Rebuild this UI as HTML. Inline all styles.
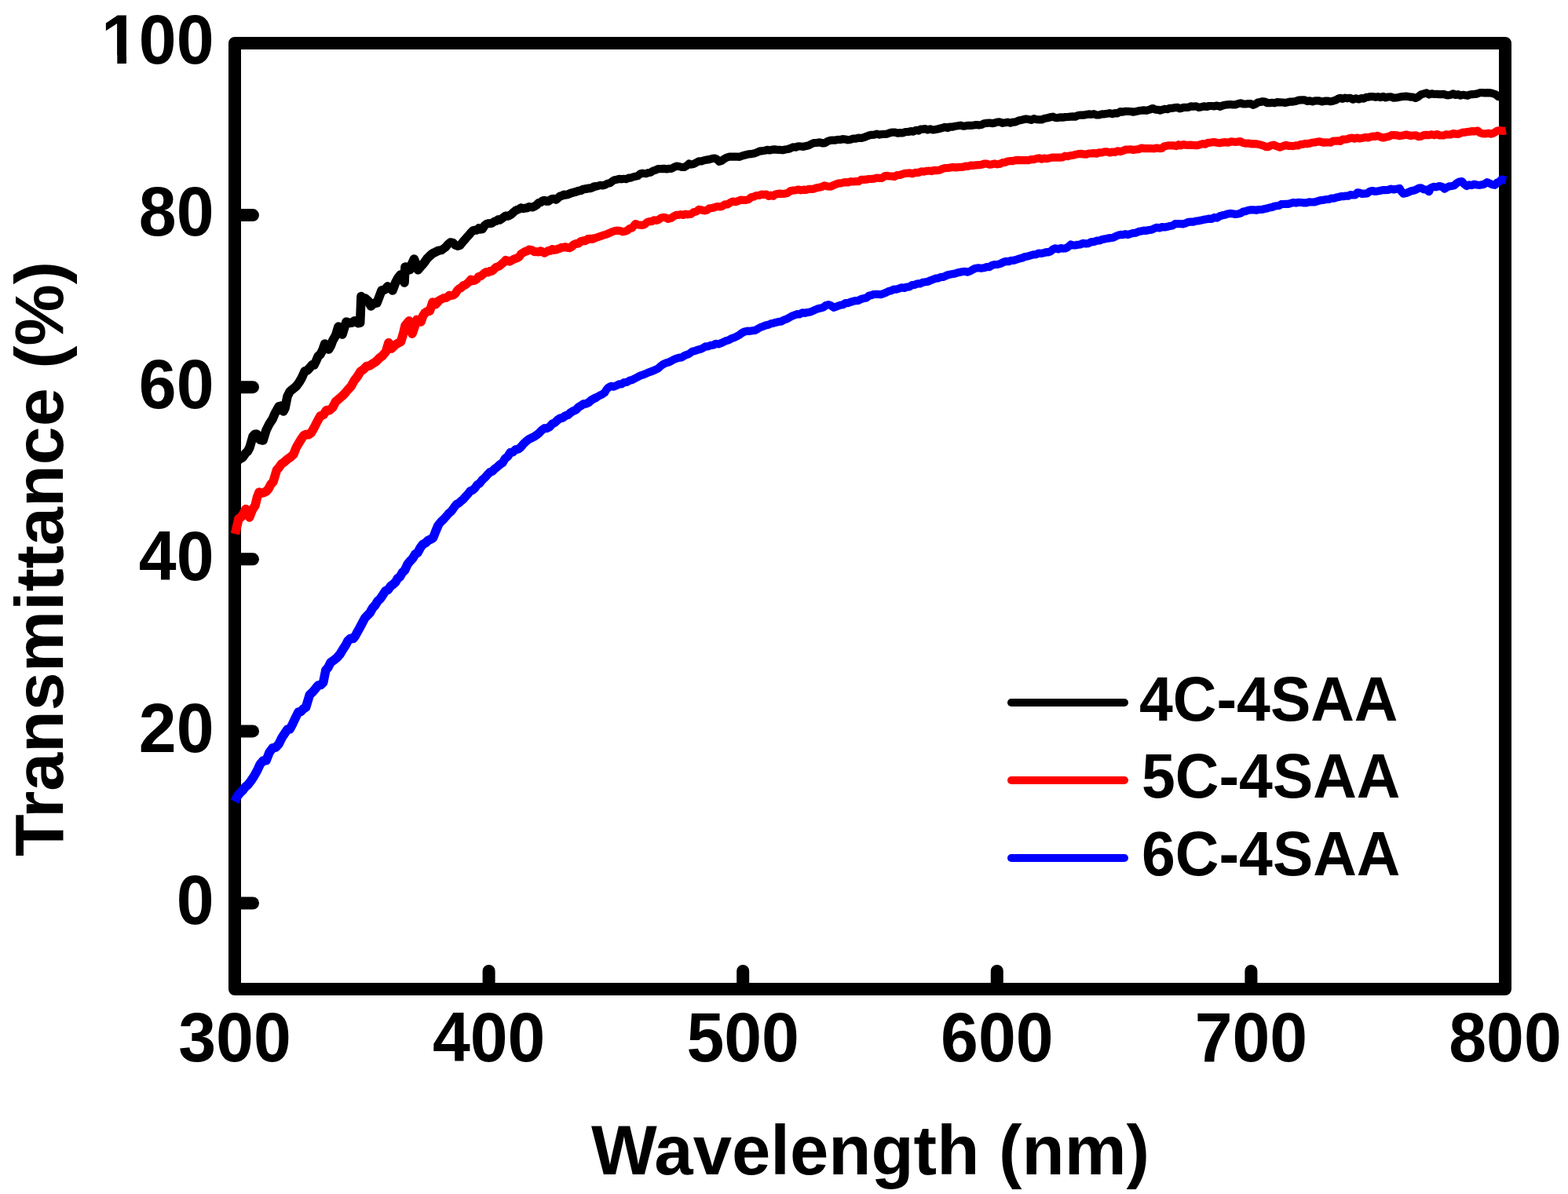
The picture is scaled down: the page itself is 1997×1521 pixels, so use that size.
<!DOCTYPE html>
<html><head><meta charset="utf-8"><title>Transmittance</title>
<style>html,body{margin:0;padding:0;background:#fff;width:1997px;height:1521px;overflow:hidden}svg{display:block}</style>
</head><body>
<svg width="1997" height="1521" viewBox="0 0 1997 1521">
<rect x="0" y="0" width="1997" height="1521" fill="#fff"/>
<rect x="299" y="55" width="1618" height="1205" fill="none" stroke="#000" stroke-width="16" stroke-linejoin="round"/>
<path d="M299,1150.5H322M299,931.4H322M299,712.3H322M299,493.2H322M299,274.1H322M622.6,1260V1237M946.2,1260V1237M1269.8,1260V1237M1593.4,1260V1237" stroke="#000" stroke-width="16" stroke-linecap="round" fill="none"/>
<text transform="translate(272.5,81.3) scale(1,1.04)" text-anchor="end" font-size="86" font-family="'Liberation Sans', Arial, sans-serif" font-weight="bold">100</text>
<text transform="translate(272.5,300.4) scale(1,1.04)" text-anchor="end" font-size="86" font-family="'Liberation Sans', Arial, sans-serif" font-weight="bold">80</text>
<text transform="translate(272.5,519.5) scale(1,1.04)" text-anchor="end" font-size="86" font-family="'Liberation Sans', Arial, sans-serif" font-weight="bold">60</text>
<text transform="translate(272.5,738.6) scale(1,1.04)" text-anchor="end" font-size="86" font-family="'Liberation Sans', Arial, sans-serif" font-weight="bold">40</text>
<text transform="translate(272.5,957.7) scale(1,1.04)" text-anchor="end" font-size="86" font-family="'Liberation Sans', Arial, sans-serif" font-weight="bold">20</text>
<text transform="translate(272.5,1176.8) scale(1,1.04)" text-anchor="end" font-size="86" font-family="'Liberation Sans', Arial, sans-serif" font-weight="bold">0</text>
<rect x="128" y="70.5" width="21.3" height="14" fill="#fff"/><rect x="161" y="70.5" width="16" height="14" fill="#fff"/>
<text transform="translate(299.0,1352) scale(1,1.04)" text-anchor="middle" font-size="86" font-family="'Liberation Sans', Arial, sans-serif" font-weight="bold">300</text>
<text transform="translate(622.6,1352) scale(1,1.04)" text-anchor="middle" font-size="86" font-family="'Liberation Sans', Arial, sans-serif" font-weight="bold">400</text>
<text transform="translate(946.2,1352) scale(1,1.04)" text-anchor="middle" font-size="86" font-family="'Liberation Sans', Arial, sans-serif" font-weight="bold">500</text>
<text transform="translate(1269.8,1352) scale(1,1.04)" text-anchor="middle" font-size="86" font-family="'Liberation Sans', Arial, sans-serif" font-weight="bold">600</text>
<text transform="translate(1593.4,1352) scale(1,1.04)" text-anchor="middle" font-size="86" font-family="'Liberation Sans', Arial, sans-serif" font-weight="bold">700</text>
<text transform="translate(1917.0,1352) scale(1,1.04)" text-anchor="middle" font-size="86" font-family="'Liberation Sans', Arial, sans-serif" font-weight="bold">800</text>
<text transform="translate(1108.5,1495.8)" text-anchor="middle" font-size="88.7" font-family="'Liberation Sans', Arial, sans-serif" font-weight="bold">Wavelength (nm)</text>
<text transform="translate(80,712) rotate(-90)" text-anchor="middle" font-size="88" font-family="'Liberation Sans', Arial, sans-serif" font-weight="bold">Transmittance (%)</text>
<polyline points="299.0,594.0 302.0,587.7 305.0,585.0 309.0,582.7 313.0,577.0 315.5,574.8 318.0,570.0 322.0,556.0 324.5,553.3 327.0,553.0 331.0,560.0 335.0,561.0 339.0,548.0 343.0,540.0 347.0,534.0 350.0,527.0 352.5,522.5 355.0,518.0 359.0,517.0 361.0,524.0 363.0,520.0 366.0,505.0 369.0,499.0 372.0,496.3 375.0,494.0 378.0,491.2 381.0,487.0 384.0,482.0 388.0,473.0 391.5,471.7 395.0,468.0 397.5,464.8 400.0,465.0 402.5,460.0 405.2,453.8 407.9,451.6 410.8,446.2 413.7,438.0 416.2,441.2 418.7,445.0 421.2,440.6 423.7,434.0 427.5,427.4 431.0,416.0 433.5,419.0 436.0,426.0 438.5,417.8 441.0,410.0 444.9,411.4 448.7,411.0 451.2,408.8 453.7,408.7 456.2,411.6 458.7,411.0 460.0,377.5 462.5,380.3 465.0,380.0 468.8,383.2 472.5,390.0 476.2,386.3 480.0,386.0 483.0,378.2 486.0,370.0 489.9,369.1 493.7,365.0 496.9,367.1 500.0,370.0 503.7,360.0 506.9,354.0 510.0,350.0 512.5,354.7 515.0,360.0 516.0,340.0 519.0,340.3 522.0,343.7 524.7,335.9 527.4,330.0 529.9,336.6 532.4,343.7 536.2,339.3 540.0,335.0 543.7,329.7 547.4,326.0 551.2,322.7 555.0,321.0 558.7,319.0 562.4,318.7 564.9,316.7 567.4,315.0 570.5,311.2 573.6,308.7 576.8,309.1 580.0,312.3 583.0,313.4 585.9,312.6 589.9,307.6 592.3,305.0 594.8,302.0 597.2,299.5 599.7,296.3 602.2,293.8 604.7,293.1 607.2,293.2 609.6,290.7 612.0,292.2 614.5,291.8 617.0,287.6 619.4,285.4 621.9,284.6 624.4,284.7 626.8,284.1 629.3,282.3 631.8,281.6 634.2,279.8 636.7,280.2 639.2,278.5 641.7,276.5 644.1,274.9 646.5,275.4 649.0,274.4 651.5,272.8 654.0,270.4 656.5,268.3 658.9,267.2 661.3,266.2 663.8,264.7 666.3,265.7 668.8,265.0 671.2,265.0 673.7,263.5 676.2,263.8 678.6,264.0 681.0,262.7 683.5,261.1 686.0,258.5 688.5,257.8 691.0,255.9 693.4,255.1 695.8,256.3 698.3,256.3 700.8,254.7 703.3,253.4 705.8,253.1 708.2,254.2 710.7,252.2 713.1,250.0 715.6,249.4 718.1,248.0 720.5,248.2 723.0,247.8 725.0,246.9 728.0,245.7 730.9,245.0 733.9,244.2 736.8,243.2 739.8,242.7 742.7,241.1 745.7,240.7 748.6,240.0 751.6,239.8 754.6,238.9 757.5,237.2 760.5,237.3 764.0,235.9 767.6,236.4 770.7,235.5 773.8,233.8 776.8,233.2 779.7,230.9 782.7,229.2 785.6,228.7 788.6,227.9 791.5,228.3 794.5,227.8 797.4,228.2 800.4,226.7 803.4,226.6 806.3,225.4 809.3,224.7 812.3,224.1 815.2,221.5 818.2,220.7 822.6,221.2 825.6,220.1 828.5,219.8 831.5,217.8 835.0,216.6 838.6,215.0 842.1,215.1 845.7,214.8 849.2,215.4 852.2,214.8 855.1,214.8 858.1,213.2 861.5,211.6 865.0,212.0 868.2,213.0 871.4,212.9 874.5,211.3 877.6,208.5 880.0,209.6 883.3,208.9 886.7,207.2 890.0,205.3 893.3,205.4 896.7,204.2 900.0,203.6 903.3,203.1 906.7,202.1 910.0,201.6 913.0,202.8 916.0,205.8 919.0,204.9 922.0,202.6 925.0,200.8 929.0,199.6 933.0,199.6 936.0,199.7 939.0,199.7 942.0,199.8 946.0,198.3 950.0,197.3 953.3,196.4 956.7,196.2 960.0,195.6 964.0,194.2 968.0,192.3 971.0,192.3 974.0,191.8 977.0,190.8 980.0,191.5 983.3,190.7 986.7,190.4 990.0,190.8 993.3,190.9 996.7,191.3 1000.0,190.5 1003.3,190.0 1006.7,189.0 1010.0,187.3 1013.3,187.7 1016.7,186.3 1020.0,186.5 1023.3,186.8 1026.7,186.0 1030.0,185.3 1033.3,183.4 1036.7,182.1 1040.0,182.0 1044.0,181.3 1048.0,182.5 1051.0,182.1 1054.0,180.1 1057.0,178.9 1060.0,178.7 1063.3,178.7 1066.7,177.9 1070.0,178.0 1073.3,177.2 1076.7,177.5 1080.0,178.3 1083.3,177.8 1086.7,176.5 1090.0,176.6 1093.3,175.6 1096.7,176.0 1100.0,175.1 1103.3,173.9 1106.7,172.5 1110.0,171.8 1113.3,171.7 1116.7,170.7 1120.0,171.6 1123.3,171.0 1126.7,170.8 1130.0,170.6 1133.3,169.3 1136.7,168.5 1140.0,168.6 1143.3,169.6 1146.7,169.1 1150.0,169.3 1153.3,168.0 1156.7,168.0 1160.0,167.1 1163.3,167.6 1166.7,165.8 1170.0,166.6 1172.5,164.6 1175.0,164.6 1178.2,164.1 1181.5,165.4 1184.8,164.4 1188.0,165.3 1191.0,165.1 1194.0,164.5 1197.0,163.7 1200.0,163.0 1203.3,161.9 1206.7,163.0 1210.0,161.5 1213.3,161.7 1216.7,160.7 1220.0,160.3 1223.3,159.7 1226.7,160.6 1230.0,160.3 1233.3,159.8 1236.7,159.9 1240.0,159.5 1243.3,159.0 1246.7,159.4 1250.0,159.0 1253.3,157.3 1256.7,156.9 1260.0,156.5 1263.3,157.1 1266.7,156.6 1270.0,155.5 1273.3,155.4 1276.7,156.8 1280.0,156.3 1283.3,155.7 1286.7,156.7 1290.0,155.6 1293.3,155.3 1296.7,153.8 1300.0,153.1 1303.3,152.3 1306.7,151.5 1310.0,152.1 1313.3,152.9 1316.7,151.2 1320.0,152.1 1323.3,152.4 1326.7,152.4 1330.0,151.1 1334.0,150.3 1338.0,149.3 1341.0,148.6 1344.0,150.0 1347.0,150.2 1350.0,149.3 1353.3,149.6 1356.7,149.1 1360.0,149.0 1363.3,148.6 1366.7,148.4 1370.0,148.6 1373.0,147.0 1376.0,146.6 1379.5,146.7 1383.0,146.1 1386.5,145.4 1390.0,145.8 1393.3,145.2 1396.7,146.5 1400.0,146.3 1403.3,145.4 1406.7,145.3 1410.0,144.8 1413.3,144.2 1416.7,145.1 1420.0,144.1 1423.3,144.4 1426.7,142.1 1430.0,142.6 1433.3,141.8 1436.7,141.9 1440.0,142.0 1443.3,142.7 1446.7,142.1 1450.0,141.3 1453.3,140.8 1456.7,140.4 1460.0,140.8 1464.0,139.7 1468.0,138.0 1471.5,139.6 1475.0,139.8 1477.5,140.7 1480.0,139.8 1483.3,138.8 1486.7,139.2 1490.0,137.8 1493.3,137.8 1496.7,137.1 1500.0,136.8 1502.5,138.3 1505.0,137.8 1507.5,136.8 1510.0,136.8 1513.3,136.9 1516.7,135.3 1520.0,135.8 1523.3,135.3 1526.7,137.0 1530.0,136.3 1533.3,135.3 1536.7,136.0 1540.0,135.0 1543.3,135.0 1546.7,135.3 1550.0,134.5 1554.0,135.8 1557.0,134.5 1560.0,133.8 1563.3,133.3 1566.7,133.0 1570.0,133.3 1573.3,133.4 1576.7,132.2 1580.0,131.3 1583.3,132.4 1586.7,132.5 1590.0,132.0 1593.0,132.2 1596.0,133.8 1599.0,132.6 1602.0,130.5 1605.0,130.0 1608.0,129.2 1611.0,129.5 1614.0,131.2 1617.0,131.2 1620.0,130.8 1623.3,131.3 1626.7,130.1 1630.0,130.3 1633.3,130.5 1636.7,130.9 1640.0,130.3 1643.3,129.6 1646.7,129.6 1650.0,129.0 1654.0,127.6 1658.0,127.3 1661.5,127.3 1665.0,129.0 1668.3,128.3 1671.7,129.3 1675.0,128.3 1677.5,128.4 1680.0,128.3 1683.6,129.4 1687.2,128.7 1690.8,128.6 1694.4,129.3 1697.6,128.7 1700.8,127.7 1704.0,125.9 1707.0,124.8 1710.0,125.9 1713.0,124.6 1716.0,125.3 1719.6,124.8 1723.2,126.7 1726.9,125.3 1730.5,126.5 1733.7,125.1 1736.8,125.7 1740.0,123.8 1743.0,123.6 1746.0,123.0 1749.0,123.1 1752.0,123.8 1755.1,123.2 1758.3,124.2 1761.4,122.8 1764.6,124.4 1767.7,123.5 1771.3,123.3 1774.8,124.6 1778.4,124.5 1782.0,123.8 1785.7,123.1 1789.3,122.7 1793.0,122.9 1796.2,123.6 1799.4,123.5 1802.6,125.0 1806.2,123.4 1809.8,120.3 1813.4,119.3 1816.7,118.4 1820.0,120.5 1823.4,119.3 1826.7,120.0 1830.0,119.9 1833.0,120.1 1836.0,120.1 1839.0,119.9 1842.0,121.1 1844.9,121.3 1847.8,120.8 1850.7,119.3 1853.8,121.0 1856.9,120.1 1860.0,121.7 1863.0,120.8 1866.0,121.3 1869.0,121.8 1872.0,120.5 1875.2,120.1 1878.4,119.9 1881.6,119.4 1884.8,118.1 1888.0,118.1 1891.2,118.4 1894.5,118.2 1897.8,118.3 1901.0,119.0 1904.7,120.3 1908.4,123.2 1911.6,123.4 1914.8,125.4 1918.0,125.0" fill="none" stroke="#000" stroke-width="10.2" stroke-linejoin="round" stroke-linecap="butt"/>
<polyline points="299.0,594.0 302.0,587.7 305.0,585.0 309.0,582.7 313.0,577.0 315.5,574.8 318.0,570.0 322.0,556.0 324.5,553.3 327.0,553.0 331.0,560.0 335.0,561.0 339.0,548.0 343.0,540.0 347.0,534.0 350.0,527.0 352.5,522.5 355.0,518.0 359.0,517.0 361.0,524.0 363.0,520.0 366.0,505.0 369.0,499.0 372.0,496.3 375.0,494.0 378.0,491.2 381.0,487.0 384.0,482.0 388.0,473.0 391.5,471.7 395.0,468.0 397.5,464.8 400.0,465.0 402.5,460.0 405.2,453.8 407.9,451.6 410.8,446.2 413.7,438.0 416.2,441.2 418.7,445.0 421.2,440.6 423.7,434.0 427.5,427.4 431.0,416.0 433.5,419.0 436.0,426.0 438.5,417.8 441.0,410.0 444.9,411.4 448.7,411.0 451.2,408.8 453.7,408.7 456.2,411.6 458.7,411.0 460.0,377.5 462.5,380.3 465.0,380.0 468.8,383.2 472.5,390.0 476.2,386.3 480.0,386.0 483.0,378.2 486.0,370.0 489.9,369.1 493.7,365.0 496.9,367.1 500.0,370.0 503.7,360.0 506.9,354.0 510.0,350.0 512.5,354.7 515.0,360.0 516.0,340.0 519.0,340.3 522.0,343.7 524.7,335.9 527.4,330.0 529.9,336.6 532.4,343.7 536.2,339.3 540.0,335.0 543.7,329.7 547.4,326.0 551.2,322.7 555.0,321.0 558.7,319.0" fill="none" stroke="#000" stroke-width="11.6" stroke-linejoin="round" stroke-linecap="butt"/>
<polyline points="555.0,321.0 558.7,319.0 562.4,318.7 564.9,316.7 567.4,315.0 570.5,311.2 573.6,308.7 576.8,309.1 580.0,312.3 583.0,313.4 585.9,312.6 589.9,307.6 592.3,305.0 594.8,302.0 597.2,299.5 599.7,296.3 602.2,293.8 604.7,293.1 607.2,293.2 609.6,290.7 612.0,292.2 614.5,291.8 617.0,287.6 619.4,285.4 621.9,284.6 624.4,284.7 626.8,284.1 629.3,282.3 631.8,281.6 634.2,279.8 636.7,280.2 639.2,278.5 641.7,276.5 644.1,274.9 646.5,275.4 649.0,274.4 651.5,272.8 654.0,270.4 656.5,268.3 658.9,267.2 661.3,266.2 663.8,264.7 666.3,265.7 668.8,265.0 671.2,265.0 673.7,263.5 676.2,263.8 678.6,264.0 681.0,262.7 683.5,261.1 686.0,258.5 688.5,257.8 691.0,255.9 693.4,255.1 695.8,256.3 698.3,256.3 700.8,254.7 703.3,253.4 705.8,253.1 708.2,254.2 710.7,252.2 713.1,250.0 715.6,249.4 718.1,248.0 720.5,248.2 723.0,247.8 725.0,246.9 728.0,245.7 730.9,245.0 733.9,244.2 736.8,243.2 739.8,242.7 742.7,241.1 745.7,240.7 748.6,240.0 751.6,239.8 754.6,238.9 757.5,237.2" fill="none" stroke="#000" stroke-width="10.9" stroke-linejoin="round" stroke-linecap="butt"/>
<polyline points="299.5,680.0 304.0,660.6 307.0,658.8 310.0,654.7 313.0,648.5 317.7,659.0 321.4,649.4 325.0,644.0 327.5,633.5 330.0,627.0 333.0,628.3 336.0,627.4 339.0,626.0 342.0,622.7 345.0,616.9 348.0,613.7 352.5,598.6 355.5,595.3 358.5,591.0 362.2,588.5 366.0,585.0 369.9,582.4 373.7,579.0 377.4,569.9 381.0,563.8 384.0,558.9 387.0,554.7 390.0,553.2 393.0,553.7 396.0,551.7 400.0,545.0 404.0,537.0 407.9,530.0 411.9,528.4 415.8,522.6 419.8,522.6 423.7,519.0 427.6,511.5 431.6,508.3 435.5,504.8 439.4,500.9 443.4,496.1 447.3,491.8 451.2,484.8 455.2,479.6 459.1,473.3 463.1,470.5 467.1,466.4 471.0,465.8 474.9,463.1 478.9,460.6 482.9,456.4 486.8,453.5 491.5,448.0 495.0,436.5 498.5,444.0 502.6,440.0 506.6,437.3 510.5,435.4 513.2,426.5 516.0,415.0 518.5,411.9 521.0,408.7 525.0,425.0 528.0,416.4 531.0,407.4 533.5,407.8 536.0,410.0 538.5,402.8 541.0,398.7 544.2,396.8 547.4,396.0 551.0,385.0 555.0,387.4 558.7,383.1 562.4,381.0 565.7,379.4 569.1,379.2 572.4,376.0 574.9,376.5 577.4,376.0 580.0,374.0 582.5,369.9 584.9,367.6 587.4,366.7 589.9,363.6 592.3,363.2 594.8,361.2 597.2,359.2 599.7,356.0 602.2,357.7 604.7,357.2 607.2,355.5 609.6,352.3 612.0,351.9 614.5,350.0 617.0,347.8 619.4,346.4 621.9,347.0 624.4,345.1 626.8,345.2 629.3,342.9 631.8,340.4 634.2,339.7 636.7,338.5 639.2,336.0 641.7,334.2 644.1,331.3 646.5,332.1 649.0,333.1 651.5,331.8 654.0,330.3 656.5,329.4 658.9,328.6 661.3,327.0 663.8,323.4 666.3,321.9 668.8,320.4 671.2,319.9 673.7,318.0 676.2,318.4 678.6,319.4 681.0,320.9 683.5,320.7 686.0,321.0 688.5,319.7 691.0,320.9 693.4,322.2 695.8,320.9 698.3,319.4 700.8,319.3 703.3,317.5 705.8,318.2 708.2,318.0 710.7,317.1 713.1,316.3 715.6,315.1 718.1,315.0 720.5,314.8 723.0,315.3 725.0,315.7 728.0,314.3 730.9,311.5 733.9,310.4 736.8,310.0 739.8,307.5 742.7,306.8 745.7,306.7 748.6,304.6 751.6,304.1 754.6,304.4 757.5,303.4 760.5,302.4 763.5,301.4 766.4,300.4 769.4,299.3 772.3,298.5 775.3,297.2 778.2,295.9 781.2,294.8 784.1,293.8 787.1,293.7 790.1,294.1 793.0,295.3 796.0,294.8 799.0,293.6 801.9,291.0 804.9,290.4 809.3,285.1 812.3,286.3 815.2,286.7 818.2,286.8 821.1,286.0 824.1,283.0 827.0,282.1 830.0,282.2 832.9,280.4 835.9,280.8 838.9,279.8 841.8,277.7 844.8,276.8 847.9,277.3 851.0,278.8 854.5,277.9 858.1,275.5 861.1,273.9 864.0,273.9 867.0,273.1 869.9,273.9 872.9,272.7 875.8,273.3 880.0,272.7 883.3,270.2 886.7,269.6 890.0,266.9 893.5,267.5 897.0,268.4 900.2,267.8 903.5,265.4 906.8,265.0 910.0,264.2 913.3,263.0 916.7,263.5 920.0,262.7 923.3,260.3 926.7,260.5 930.0,258.1 933.3,256.5 936.7,257.2 940.0,256.1 943.3,254.7 946.7,254.8 950.0,254.9 953.3,254.1 956.7,251.3 960.0,250.6 963.3,249.0 966.7,249.0 970.0,247.6 973.0,247.8 976.0,247.6 979.0,249.9 982.0,248.7 985.0,249.8 987.5,247.5 990.0,247.1 993.3,246.6 996.7,247.0 1000.0,246.6 1003.3,245.8 1006.7,243.2 1010.0,242.6 1013.3,242.2 1016.7,241.5 1020.0,242.3 1023.3,241.7 1026.7,241.8 1030.0,240.8 1033.3,240.8 1036.7,240.6 1040.0,239.3 1043.3,238.8 1046.7,238.0 1050.0,236.3 1054.0,237.4 1058.0,237.6 1061.5,236.0 1065.0,234.6 1068.0,233.4 1071.0,233.5 1074.0,232.5 1077.0,232.1 1080.0,232.4 1083.3,231.2 1086.7,231.5 1090.0,231.2 1093.3,231.2 1096.7,228.9 1100.0,228.9 1103.3,228.7 1106.7,228.0 1110.0,227.9 1113.3,227.6 1116.7,226.5 1120.0,226.8 1123.3,226.8 1126.7,224.4 1130.0,223.9 1133.0,224.5 1136.0,224.5 1139.0,225.1 1142.7,223.0 1146.3,222.9 1150.0,221.6 1153.0,220.8 1156.0,220.6 1159.0,220.4 1162.0,221.3 1166.0,219.9 1170.0,219.8 1173.3,218.3 1176.7,218.7 1180.0,217.8 1183.3,217.5 1186.7,218.1 1190.0,216.8 1193.3,217.1 1196.7,216.7 1200.0,215.1 1203.3,214.1 1206.7,214.0 1210.0,213.6 1213.3,212.9 1216.7,213.4 1220.0,213.1 1223.3,212.8 1226.7,212.7 1230.0,211.6 1233.3,211.8 1236.7,210.6 1240.0,210.8 1243.3,210.3 1246.7,210.2 1250.0,209.8 1253.3,208.7 1256.7,208.7 1260.0,209.6 1263.3,209.3 1266.7,208.6 1270.0,209.3 1273.3,208.9 1276.7,207.2 1280.0,206.9 1283.3,205.5 1286.7,205.1 1290.0,205.1 1293.3,204.2 1296.7,203.9 1300.0,204.1 1303.3,204.1 1306.7,204.0 1310.0,204.1 1313.3,203.1 1316.7,203.1 1320.0,202.1 1323.3,201.4 1326.7,202.6 1330.0,201.6 1333.3,202.2 1336.7,201.4 1340.0,200.6 1343.3,200.5 1346.7,200.6 1350.0,200.6 1353.3,200.3 1356.7,198.7 1360.0,199.1 1363.3,198.2 1366.7,197.7 1370.0,196.9 1373.3,196.1 1376.7,195.8 1380.0,196.4 1383.3,196.7 1386.7,195.5 1390.0,195.4 1393.3,195.1 1396.7,195.6 1400.0,194.4 1403.3,194.3 1406.7,193.3 1410.0,193.4 1413.3,194.5 1416.7,193.5 1420.0,193.9 1423.3,192.3 1426.7,193.1 1430.0,192.1 1433.3,190.7 1436.7,190.5 1440.0,190.3 1443.3,190.9 1446.7,190.5 1450.0,190.1 1454.0,188.6 1458.0,189.1 1461.0,189.1 1464.0,189.0 1467.0,189.2 1470.0,189.3 1473.3,188.5 1476.7,189.1 1480.0,188.8 1482.5,186.5 1485.0,185.9 1488.3,185.3 1491.7,185.3 1495.0,185.4 1498.0,186.1 1501.0,184.2 1504.0,185.4 1507.0,184.1 1510.0,184.6 1513.0,184.9 1516.0,184.6 1519.0,184.9 1522.0,185.1 1525.2,185.2 1528.5,184.1 1531.8,183.2 1535.0,183.6 1538.5,181.8 1542.0,181.6 1546.0,180.9 1550.0,181.8 1553.3,182.3 1556.7,181.6 1560.0,181.1 1564.0,181.6 1568.0,180.3 1572.0,180.8 1576.0,180.6 1579.5,180.1 1583.0,181.9 1586.5,182.7 1590.0,182.6 1593.3,183.3 1596.7,183.1 1600.0,183.3 1603.3,183.9 1606.7,184.9 1610.0,185.9 1612.5,187.1 1615.0,187.1 1618.5,185.4 1622.0,184.6 1626.0,186.2 1630.0,187.6 1634.0,186.2 1638.0,184.9 1641.0,185.9 1644.0,185.8 1647.0,186.1 1650.0,185.4 1653.3,185.5 1656.7,183.8 1660.0,183.6 1662.5,182.9 1665.0,183.3 1668.3,182.6 1671.7,181.5 1675.0,181.3 1677.5,180.7 1680.0,180.3 1683.0,181.0 1686.0,181.7 1689.0,181.4 1692.0,181.5 1695.0,181.6 1698.0,179.6 1701.0,179.6 1704.0,179.4 1707.0,179.9 1710.0,177.6 1713.0,177.7 1716.0,177.3 1719.0,176.0 1722.0,175.6 1725.0,176.7 1728.0,175.5 1731.6,176.5 1735.2,175.8 1738.9,174.8 1742.5,175.5 1745.5,174.4 1748.5,173.6 1751.5,173.8 1754.5,172.8 1758.1,174.5 1761.7,175.5 1765.3,174.6 1768.8,173.9 1772.4,172.2 1776.0,172.2 1779.0,172.3 1782.0,173.1 1785.0,172.7 1788.0,172.2 1791.0,171.5 1794.0,172.4 1797.0,172.9 1800.0,172.5 1803.3,172.4 1806.7,174.1 1810.0,173.7 1813.4,172.2 1816.7,171.9 1820.0,172.1 1823.4,171.3 1826.7,172.2 1830.0,171.0 1833.0,172.3 1836.0,172.5 1839.0,172.3 1842.0,171.2 1845.0,171.5 1848.0,171.3 1851.0,170.0 1854.0,170.7 1857.0,170.9 1860.0,169.8 1862.9,168.6 1865.8,168.6 1868.7,168.0 1872.0,167.6 1875.3,167.1 1878.7,167.3 1882.0,166.5 1885.0,169.2 1888.0,170.1 1891.6,170.4 1895.2,169.7 1898.8,170.6 1902.4,169.5 1907.0,166.5 1910.7,166.2 1914.3,167.0 1918.0,166.5" fill="none" stroke="#ff0000" stroke-width="10.2" stroke-linejoin="round" stroke-linecap="butt"/>
<polyline points="299.5,680.0 304.0,660.6 307.0,658.8 310.0,654.7 313.0,648.5 317.7,659.0 321.4,649.4 325.0,644.0 327.5,633.5 330.0,627.0 333.0,628.3 336.0,627.4 339.0,626.0 342.0,622.7 345.0,616.9 348.0,613.7 352.5,598.6 355.5,595.3 358.5,591.0 362.2,588.5 366.0,585.0 369.9,582.4 373.7,579.0 377.4,569.9 381.0,563.8 384.0,558.9 387.0,554.7 390.0,553.2 393.0,553.7 396.0,551.7 400.0,545.0 404.0,537.0 407.9,530.0 411.9,528.4 415.8,522.6 419.8,522.6 423.7,519.0 427.6,511.5 431.6,508.3 435.5,504.8 439.4,500.9 443.4,496.1 447.3,491.8 451.2,484.8 455.2,479.6 459.1,473.3 463.1,470.5 467.1,466.4 471.0,465.8 474.9,463.1 478.9,460.6 482.9,456.4 486.8,453.5 491.5,448.0 495.0,436.5 498.5,444.0 502.6,440.0 506.6,437.3 510.5,435.4 513.2,426.5 516.0,415.0 518.5,411.9 521.0,408.7 525.0,425.0 528.0,416.4 531.0,407.4 533.5,407.8 536.0,410.0 538.5,402.8 541.0,398.7 544.2,396.8 547.4,396.0 551.0,385.0 555.0,387.4 558.7,383.1" fill="none" stroke="#ff0000" stroke-width="11.6" stroke-linejoin="round" stroke-linecap="butt"/>
<polyline points="555.0,387.4 558.7,383.1 562.4,381.0 565.7,379.4 569.1,379.2 572.4,376.0 574.9,376.5 577.4,376.0 580.0,374.0 582.5,369.9 584.9,367.6 587.4,366.7 589.9,363.6 592.3,363.2 594.8,361.2 597.2,359.2 599.7,356.0 602.2,357.7 604.7,357.2 607.2,355.5 609.6,352.3 612.0,351.9 614.5,350.0 617.0,347.8 619.4,346.4 621.9,347.0 624.4,345.1 626.8,345.2 629.3,342.9 631.8,340.4 634.2,339.7 636.7,338.5 639.2,336.0 641.7,334.2 644.1,331.3 646.5,332.1 649.0,333.1 651.5,331.8 654.0,330.3 656.5,329.4 658.9,328.6 661.3,327.0 663.8,323.4 666.3,321.9 668.8,320.4 671.2,319.9 673.7,318.0 676.2,318.4 678.6,319.4 681.0,320.9 683.5,320.7 686.0,321.0 688.5,319.7 691.0,320.9 693.4,322.2 695.8,320.9 698.3,319.4 700.8,319.3 703.3,317.5 705.8,318.2 708.2,318.0 710.7,317.1 713.1,316.3 715.6,315.1 718.1,315.0 720.5,314.8 723.0,315.3 725.0,315.7 728.0,314.3 730.9,311.5 733.9,310.4 736.8,310.0 739.8,307.5 742.7,306.8 745.7,306.7 748.6,304.6 751.6,304.1 754.6,304.4 757.5,303.4" fill="none" stroke="#ff0000" stroke-width="10.9" stroke-linejoin="round" stroke-linecap="butt"/>
<polyline points="299.0,1020.8 302.5,1014.0 306.0,1009.8 309.2,1006.8 312.3,1002.6 315.5,1000.0 319.4,995.0 323.4,989.0 327.4,981.9 331.3,973.5 335.1,969.1 339.0,968.8 343.0,958.6 347.0,953.0 351.0,952.1 355.0,948.0 358.9,939.9 362.8,934.0 366.0,929.1 369.1,928.9 372.3,923.0 376.1,914.9 380.0,907.0 383.2,906.5 386.4,902.9 389.6,901.0 394.4,885.0 398.2,881.6 402.0,877.0 405.2,873.0 408.5,872.5 411.7,869.4 414.9,853.6 417.9,850.3 421.0,844.0 425.0,841.1 429.0,838.0 433.0,833.4 437.0,826.8 440.0,822.3 443.0,816.5 446.4,813.2 449.9,813.4 452.6,809.9 455.3,804.8 458.0,800.0 461.3,793.8 464.7,787.4 468.0,783.8 471.2,780.6 474.5,774.6 477.8,771.0 481.0,765.7 484.3,762.7 487.7,757.7 491.0,752.6 494.3,751.3 497.5,746.7 500.8,744.3 503.7,741.6 506.5,736.7 509.4,734.7 512.3,729.5 515.6,726.3 518.9,719.1 522.2,714.8 525.5,711.5 528.8,706.0 532.0,704.0 535.3,697.7 538.6,693.4 541.9,691.7 545.2,688.6 548.4,687.1 551.7,685.0 555.0,676.5 558.3,668.7 561.6,664.6 564.9,661.6 568.2,657.9 571.5,654.0 574.8,651.3 578.0,646.8 581.3,642.4 584.2,641.0 587.2,638.2 590.1,635.9 593.1,632.4 596.0,629.3 598.9,625.5 601.8,624.5 604.7,621.9 607.6,617.8 610.9,615.6 614.2,611.4 617.5,608.5 620.8,604.7 623.9,601.5 626.9,600.5 630.0,597.2 633.3,594.9 636.7,591.7 640.0,589.7 643.3,584.1 646.7,581.5 650.0,576.2 653.3,576.0 656.7,572.6 660.0,572.2 663.3,569.6 666.7,565.5 670.0,562.4 673.3,559.6 676.7,558.0 680.0,556.4 683.3,554.2 686.7,551.6 690.0,548.1 693.3,545.7 696.7,545.5 700.0,543.8 703.3,540.0 706.7,538.4 710.0,535.1 713.3,532.9 716.7,532.2 720.0,529.6 723.3,528.6 726.7,525.6 730.0,523.6 733.3,522.3 736.7,518.7 740.0,516.8 743.3,514.6 746.7,514.2 750.0,512.6 753.3,509.5 756.7,507.7 760.0,506.1 763.3,504.0 766.7,502.5 770.0,500.3 772.5,496.2 775.0,493.5 778.3,491.8 781.7,492.7 785.0,491.2 788.3,489.4 791.7,489.3 795.0,487.0 798.3,486.8 801.7,484.8 805.0,484.0 808.3,482.2 811.7,480.5 815.0,478.7 818.3,477.7 821.7,476.3 825.0,474.8 828.3,473.6 831.7,472.4 835.0,470.8 838.3,469.3 841.7,466.1 845.0,463.8 848.3,462.3 851.7,461.6 855.0,459.8 858.3,457.9 861.7,456.6 865.0,455.6 868.3,455.3 871.7,453.1 875.0,451.8 878.3,450.3 881.7,447.7 885.0,447.1 888.3,445.8 891.7,444.9 895.0,443.6 898.3,441.4 901.7,441.3 905.0,439.8 908.3,439.6 911.7,437.9 915.0,438.3 918.3,437.2 921.7,435.4 925.0,434.1 928.3,433.1 931.7,431.1 935.0,430.1 938.3,428.5 941.7,426.6 945.0,424.1 948.3,422.4 951.7,421.7 955.0,421.8 958.3,421.2 961.7,420.9 965.0,419.0 968.3,417.0 971.7,415.9 975.0,414.5 978.3,413.8 981.7,412.3 985.0,411.7 988.3,410.7 991.7,409.9 995.0,409.5 998.3,407.6 1001.7,406.5 1005.0,404.7 1008.3,402.8 1011.7,401.5 1015.0,400.2 1018.3,400.3 1021.7,398.3 1025.0,398.8 1028.3,398.0 1031.7,397.5 1035.0,396.1 1038.3,394.6 1041.7,393.2 1045.0,392.6 1048.3,391.7 1051.7,389.1 1055.0,388.1 1058.5,389.3 1062.0,391.8 1066.0,390.2 1070.0,388.8 1073.3,388.3 1076.7,386.2 1080.0,386.1 1083.3,384.7 1086.7,383.8 1090.0,383.1 1093.3,382.8 1096.7,381.0 1100.0,380.1 1103.3,379.5 1106.7,376.8 1110.0,376.1 1112.5,375.1 1115.0,374.8 1118.3,374.9 1121.7,375.1 1125.0,374.1 1128.3,372.7 1131.7,371.0 1135.0,370.3 1138.3,368.6 1141.7,368.6 1145.0,367.6 1148.3,366.3 1151.7,366.9 1155.0,365.6 1158.3,365.3 1161.7,363.1 1165.0,362.8 1168.3,361.4 1171.7,361.4 1175.0,359.8 1178.3,359.3 1181.7,358.7 1185.0,357.3 1188.3,356.0 1191.7,354.6 1195.0,354.3 1198.3,352.8 1201.7,352.8 1205.0,351.1 1208.3,349.9 1211.7,349.3 1215.0,348.8 1218.3,347.8 1221.7,346.9 1225.0,346.2 1228.5,345.8 1232.0,346.6 1235.5,345.5 1239.0,343.4 1242.5,341.7 1246.0,341.3 1249.5,341.8 1253.0,341.3 1256.5,340.2 1260.0,340.1 1263.5,337.9 1267.0,337.0 1270.5,336.9 1274.1,335.9 1277.6,334.1 1281.1,332.8 1284.5,333.1 1288.0,331.8 1291.5,331.7 1295.1,330.5 1298.6,329.4 1302.1,328.5 1305.5,327.0 1309.0,326.5 1312.5,325.4 1316.1,324.4 1319.6,324.1 1323.1,322.5 1326.5,322.9 1330.0,322.0 1332.7,321.2 1335.4,321.3 1338.1,320.2 1340.7,317.8 1344.2,316.3 1347.7,317.4 1351.2,316.0 1353.8,316.6 1356.4,316.5 1360.1,314.8 1363.8,311.5 1366.6,312.4 1369.4,312.5 1372.2,311.8 1375.7,311.5 1379.2,309.9 1382.7,310.4 1386.2,310.1 1389.7,308.2 1393.2,308.1 1396.7,306.7 1400.3,306.4 1403.8,305.0 1407.3,304.4 1410.8,303.6 1414.3,303.1 1417.8,302.7 1421.3,300.9 1424.8,299.4 1427.4,298.9 1430.0,299.1 1433.3,298.2 1436.7,299.0 1440.0,297.8 1443.3,296.9 1446.7,296.6 1450.0,295.1 1453.3,294.4 1456.7,293.6 1460.0,293.8 1463.3,293.0 1466.7,292.6 1470.0,291.1 1473.3,289.8 1476.7,290.4 1480.0,289.1 1483.3,289.5 1486.7,288.8 1490.0,287.8 1493.3,287.5 1496.7,285.0 1500.0,285.1 1503.3,285.1 1506.7,285.3 1510.0,284.3 1513.3,282.8 1516.7,282.7 1520.0,282.6 1523.3,281.5 1526.7,281.3 1530.0,280.6 1533.3,279.8 1536.7,279.2 1540.0,278.6 1543.3,278.8 1546.7,276.9 1550.0,277.6 1553.3,275.4 1556.7,274.3 1560.0,273.8 1563.3,272.5 1566.7,271.9 1570.0,272.3 1573.3,273.0 1576.7,272.5 1580.0,271.6 1583.3,269.5 1586.7,269.1 1590.0,267.8 1593.3,267.4 1596.7,267.4 1600.0,267.8 1603.3,267.0 1606.7,267.0 1610.0,266.2 1613.3,265.6 1616.7,264.5 1620.0,264.0 1623.0,262.7 1626.0,262.3 1629.0,262.0 1631.8,260.2 1634.5,260.0 1637.7,259.8 1640.9,259.9 1644.1,258.9 1647.3,258.0 1650.5,258.6 1653.8,257.8 1657.2,258.0 1660.5,258.3 1663.8,258.4 1667.2,257.4 1670.5,257.5 1673.7,257.5 1676.9,256.6 1680.2,255.6 1683.4,254.9 1686.6,254.6 1689.7,254.0 1692.8,253.8 1695.8,252.6 1698.9,252.6 1702.0,251.6 1705.0,251.0 1708.0,250.1 1711.0,250.2 1714.0,249.6 1717.0,249.7 1720.0,248.1 1723.0,248.5 1726.0,248.4 1728.5,245.4 1731.7,245.7 1734.8,247.0 1738.0,246.6 1741.2,246.3 1744.5,243.9 1747.7,243.0 1750.9,243.8 1754.1,243.6 1757.3,243.0 1760.9,242.1 1764.4,242.1 1768.0,241.8 1771.6,240.6 1775.2,241.5 1778.9,240.8 1782.5,240.0 1785.0,244.1 1787.4,246.6 1790.9,246.0 1794.5,244.5 1798.0,243.0 1801.0,242.6 1804.0,241.3 1807.0,239.5 1810.0,239.4 1813.3,241.2 1816.7,241.6 1820.0,244.2 1822.0,239.4 1825.7,237.9 1829.3,238.3 1833.0,237.0 1836.5,237.9 1840.0,240.6 1842.9,238.6 1845.7,237.4 1848.6,237.0 1851.9,236.3 1855.2,233.4 1858.6,231.5 1861.9,231.0 1865.0,234.7 1868.0,237.0 1871.2,235.4 1874.3,236.1 1877.5,234.6 1881.1,235.5 1884.7,235.8 1887.8,235.3 1890.9,234.3 1894.0,232.2 1897.3,233.6 1900.7,235.2 1904.0,235.8 1906.8,232.5 1909.6,231.5 1912.4,228.6 1915.2,229.2 1918.0,229.8" fill="none" stroke="#0000ff" stroke-width="10.2" stroke-linejoin="round" stroke-linecap="butt"/>
<polyline points="299.0,1020.8 302.5,1014.0 306.0,1009.8 309.2,1006.8 312.3,1002.6 315.5,1000.0 319.4,995.0 323.4,989.0 327.4,981.9 331.3,973.5 335.1,969.1 339.0,968.8 343.0,958.6 347.0,953.0 351.0,952.1 355.0,948.0 358.9,939.9 362.8,934.0 366.0,929.1 369.1,928.9 372.3,923.0 376.1,914.9 380.0,907.0 383.2,906.5 386.4,902.9 389.6,901.0 394.4,885.0 398.2,881.6 402.0,877.0 405.2,873.0 408.5,872.5 411.7,869.4 414.9,853.6 417.9,850.3 421.0,844.0 425.0,841.1 429.0,838.0 433.0,833.4 437.0,826.8 440.0,822.3 443.0,816.5 446.4,813.2 449.9,813.4 452.6,809.9 455.3,804.8 458.0,800.0 461.3,793.8 464.7,787.4 468.0,783.8 471.2,780.6 474.5,774.6 477.8,771.0 481.0,765.7 484.3,762.7 487.7,757.7 491.0,752.6 494.3,751.3 497.5,746.7 500.8,744.3 503.7,741.6 506.5,736.7 509.4,734.7 512.3,729.5 515.6,726.3 518.9,719.1 522.2,714.8 525.5,711.5 528.8,706.0 532.0,704.0 535.3,697.7 538.6,693.4 541.9,691.7 545.2,688.6 548.4,687.1 551.7,685.0 555.0,676.5 558.3,668.7" fill="none" stroke="#0000ff" stroke-width="11.6" stroke-linejoin="round" stroke-linecap="butt"/>
<polyline points="555.0,676.5 558.3,668.7 561.6,664.6 564.9,661.6 568.2,657.9 571.5,654.0 574.8,651.3 578.0,646.8 581.3,642.4 584.2,641.0 587.2,638.2 590.1,635.9 593.1,632.4 596.0,629.3 598.9,625.5 601.8,624.5 604.7,621.9 607.6,617.8 610.9,615.6 614.2,611.4 617.5,608.5 620.8,604.7 623.9,601.5 626.9,600.5 630.0,597.2 633.3,594.9 636.7,591.7 640.0,589.7 643.3,584.1 646.7,581.5 650.0,576.2 653.3,576.0 656.7,572.6 660.0,572.2 663.3,569.6 666.7,565.5 670.0,562.4 673.3,559.6 676.7,558.0 680.0,556.4 683.3,554.2 686.7,551.6 690.0,548.1 693.3,545.7 696.7,545.5 700.0,543.8 703.3,540.0 706.7,538.4 710.0,535.1 713.3,532.9 716.7,532.2 720.0,529.6 723.3,528.6 726.7,525.6 730.0,523.6 733.3,522.3 736.7,518.7 740.0,516.8 743.3,514.6 746.7,514.2 750.0,512.6 753.3,509.5 756.7,507.7 760.0,506.1" fill="none" stroke="#0000ff" stroke-width="10.9" stroke-linejoin="round" stroke-linecap="butt"/>
<line x1="1288" y1="895.0" x2="1432" y2="895.0" stroke="#000" stroke-width="10" stroke-linecap="round"/>
<text transform="translate(1451,917.7) scale(1,1.04)" font-size="77" font-family="'Liberation Sans', Arial, sans-serif" font-weight="bold">4C-4SAA</text>
<line x1="1288" y1="994.0" x2="1432" y2="994.0" stroke="#ff0000" stroke-width="10" stroke-linecap="round"/>
<text transform="translate(1454,1015.9) scale(1,1.04)" font-size="77" font-family="'Liberation Sans', Arial, sans-serif" font-weight="bold">5C-4SAA</text>
<line x1="1288" y1="1093.0" x2="1432" y2="1093.0" stroke="#0000ff" stroke-width="10" stroke-linecap="round"/>
<text transform="translate(1454,1114.6) scale(1,1.04)" font-size="77" font-family="'Liberation Sans', Arial, sans-serif" font-weight="bold">6C-4SAA</text>
</svg>
</body></html>
